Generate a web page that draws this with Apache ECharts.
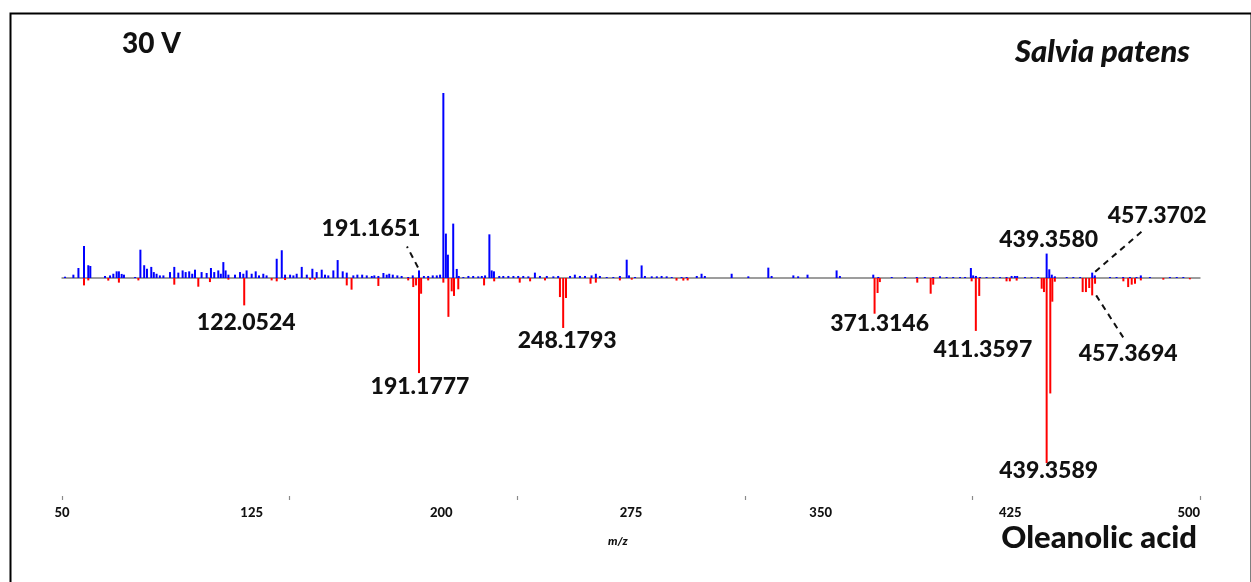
<!DOCTYPE html>
<html>
<head>
<meta charset="utf-8">
<script src="https://cdn.jsdelivr.net/npm/echarts@6/dist/echarts.min.js"></script>
<style>
  html, body { margin: 0; padding: 0; background: #fff; }
  #chart { width: 1251px; height: 582px; }
</style>
</head>
<body>
<div id="chart"></div>
<script>
// Mirror plot of MS/MS spectra at 30 V: plant extract (up) vs. reference standard (down)
const sampleName = 'Salvia patens';
const standardName = 'Oleanolic acid';
const energyLabel = '30 V';
const axisTitle = 'm/z';

// m/z tick labels and tick marks
const labelTicks = [50, 125, 200, 275, 350, 425, 500];
const markTicks = [50, 140, 230, 320, 410, 500];

// Upper trace: [m/z, relative intensity %]
const samplePeaks = [
  [51.2, 0.7], [54.5, 1.8], [56.5, 5.4], [58.7, 17.3], [60.4, 6.9], [61.2, 6.5],
  [67.0, 1.1], [69.0, 1.4], [70.3, 2.3], [71.6, 3.6], [72.5, 3.6], [73.6, 2.2], [74.5, 1.8],
  [78.9, 0.5], [81.0, 15.3], [82.5, 6.9], [83.6, 5.0], [85.3, 6.0], [86.3, 3.2], [87.4, 2.3],
  [88.7, 1.4], [90.1, 1.4], [92.7, 3.2], [94.4, 6.0], [96.0, 2.9], [97.7, 4.1], [98.9, 3.2],
  [100.3, 3.6], [101.5, 2.3], [102.6, 4.5], [105.2, 3.2], [107.2, 2.7], [108.9, 5.4],
  [110.2, 3.2], [111.8, 4.1], [112.8, 2.3], [113.8, 8.6], [114.7, 4.1], [115.8, 1.8],
  [118.4, 1.8], [120.4, 3.2], [121.7, 2.3], [123.0, 4.1], [125.0, 2.3], [126.6, 3.6],
  [127.9, 1.4], [129.6, 2.3], [130.9, 1.4], [134.9, 10.4], [136.9, 15.0], [138.2, 1.8],
  [140.2, 1.8], [141.5, 1.4], [142.8, 2.3], [144.8, 6.0], [146.8, 1.8], [149.0, 5.0],
  [150.7, 3.2], [152.7, 4.5], [154.0, 1.8], [155.3, 1.4], [157.3, 4.1], [159.0, 9.7],
  [161.0, 3.6], [162.6, 2.9], [165.2, 1.4], [166.8, 1.8], [168.7, 1.8], [170.5, 1.4],
  [172.5, 1.1], [173.5, 1.4], [175.1, 1.1], [177.1, 2.7], [178.4, 1.8], [179.4, 2.3],
  [180.8, 1.8], [182.6, 1.4], [184.3, 1.1], [186.9, 0.5], [188.7, 1.4], [191.1651, 4.1],
  [193.1, 1.1], [194.8, 1.1], [196.6, 1.4], [198.2, 1.4], [199.5, 1.8], [200.8, 100],
  [201.8, 24.0], [202.6, 12.6], [204.7, 29.4], [206.1, 4.9], [206.9, 1.1], [208.7, 0.5],
  [210.7, 1.1], [212.6, 1.1], [214.6, 0.9], [216.0, 1.1], [217.3, 1.4], [219.0, 23.6],
  [219.9, 4.1], [220.8, 3.6], [222.9, 1.1], [224.5, 1.1], [226.5, 1.1], [228.5, 1.1],
  [230.4, 1.1], [232.4, 1.1], [234.4, 0.9], [237.0, 2.9], [239.0, 1.1], [241.7, 1.1],
  [244.3, 0.9], [246.2, 1.1], [250.9, 1.1], [252.8, 1.8], [254.8, 1.1], [256.8, 1.1],
  [259.4, 1.4], [261.1, 2.3], [262.7, 1.1], [265.4, 0.5], [268.0, 0.5], [270.6, 1.1],
  [273.3, 9.9], [274.2, 1.4], [276.6, 0.5], [279.2, 6.8], [280.5, 1.1], [283.2, 0.9],
  [285.2, 0.9], [287.1, 1.1], [289.1, 0.9], [291.1, 0.5], [295.0, 0.5], [297.0, 0.5],
  [301.0, 1.1], [302.9, 2.3], [304.2, 1.1], [314.8, 2.3], [321.4, 0.9], [329.3, 5.6],
  [330.6, 1.1], [339.2, 1.4], [341.1, 0.9], [344.8, 1.8], [356.3, 4.1], [357.6, 1.1],
  [370.8, 1.8], [372.8, 0.5], [378.1, 0.5], [383.4, 0.5], [388.0, 0.5], [391.2, 0.4],
  [394.5, 0.5], [397.2, 0.9], [399.8, 0.5], [402.4, 0.5], [405.1, 0.5], [407.1, 0.5],
  [409.4, 5.4], [410.3, 1.4], [411.4, 1.1], [413.0, 0.5], [415.6, 0.5], [418.3, 0.5],
  [420.9, 0.5], [423.5, 0.5], [425.5, 1.1], [426.8, 1.1], [427.7, 1.1], [430.8, 0.5],
  [433.4, 0.5], [436.0, 0.5], [439.3580, 13.2], [440.4, 4.7], [441.4, 1.8], [442.6, 0.9],
  [447.3, 0.5], [449.9, 0.4], [452.6, 0.5], [457.3702, 2.9], [458.4, 1.4], [464.4, 0.5],
  [467.0, 0.5], [469.6, 0.5], [472.3, 0.5], [474.9, 0.5], [476.6, 1.4], [480.2, 0.4],
  [488.1, 0.4], [490.8, 0.4], [493.4, 0.4]
];

// Lower trace: [m/z, relative intensity %], drawn downward
const standardPeaks = [
  [58.7, 4.0], [60.4, 1.3], [68.3, 1.4], [72.5, 2.5], [80.2, 1.3], [94.4, 3.6],
  [103.9, 4.7], [108.5, 2.2], [115.8, 0.9], [122.0524, 14.8], [132.9, 1.3], [134.9, 1.8],
  [138.2, 1.1], [148.1, 0.9], [150.0, 0.9], [162.6, 4.0], [164.5, 6.3], [175.1, 4.3],
  [186.9, 1.3], [188.9, 4.9], [190.0, 4.0], [191.1777, 51.4], [192.0, 8.5], [194.8, 1.3],
  [200.8, 2.5], [202.8, 21.0], [204.1, 7.2], [205.0, 9.7], [206.7, 6.1], [216.9, 4.0],
  [220.9, 1.8], [231.0, 2.5], [235.1, 1.8], [241.0, 1.3], [246.9, 10.3], [248.1793, 27.0],
  [249.3, 10.8], [259.0, 3.1], [261.1, 2.5], [270.6, 1.3], [275.3, 0.9], [293.0, 1.4],
  [295.7, 1.4], [297.4, 1.3], [371.3146, 19.3], [372.5, 8.1], [373.4, 2.2], [388.2, 2.5],
  [393.5, 8.5], [394.5, 3.6], [409.7, 1.8], [411.3597, 28.6], [412.7, 9.7], [423.5, 1.8],
  [424.8, 1.8], [427.5, 1.4], [437.4, 5.8], [438.3, 7.6], [439.3589, 100], [440.8, 62.4],
  [441.6, 12.8], [442.6, 2.0], [453.6, 7.6], [454.9, 7.6], [456.2, 5.4], [457.3694, 9.4],
  [458.5, 3.1], [469.7, 1.8], [471.6, 4.9], [473.0, 3.6], [474.3, 3.1], [476.6, 1.3],
  [485.5, 0.9], [496.0, 0.7]
];

// Peaks that carry an m/z annotation
const sampleLabelled = [191.1651, 439.3580, 457.3702];
const standardLabelled = [122.0524, 191.1777, 248.1793, 371.3146, 411.3597, 439.3589, 457.3694];

// Annotation placement relative to the peak tip (px): text centre and optional dashed leader
const annotationLayout = {
  '191.1651': { dx: -48, dy: -42, leader: [-1, -3, -12, -24] },
  '439.3580': { dx: 2, dy: -14 },
  '457.3702': { dx: 65, dy: -57, leader: [3, -1, 53, -44] },
  '122.0524': { dx: 2, dy: 17 },
  '191.1777': { dx: 1, dy: 13 },
  '248.1793': { dx: 4, dy: 13 },
  '371.3146': { dx: 5, dy: 10 },
  '411.3597': { dx: 7, dy: 19 },
  '439.3589': { dx: 2, dy: 8 },
  '457.3694': { dx: 36, dy: 58, leader: [4, 0, 31, 42] }
};

const BLUE = '#0000ff';
const RED = '#ff0000';
const FONT = 'Lato, "Open Sans", "DejaVu Sans", sans-serif';

const upper = samplePeaks.map(p => [p[0], p[1]]);
const lower = standardPeaks.map(p => [p[0], -p[1]]);

function lookup(list, mz) {
  return list.find(p => p[0] === mz);
}
const annotations = sampleLabelled.map(mz => lookup(upper, mz))
  .concat(standardLabelled.map(mz => lookup(lower, mz)));

function stickRenderer(color) {
  return function (params, api) {
    const x = api.value(0);
    const v = api.value(1);
    const base = api.coord([x, 0]);
    const tip = api.coord([x, v]);
    const h = Math.max(1, Math.abs(tip[1] - base[1]));
    return {
      type: 'rect',
      shape: { x: base[0] - 1, y: v >= 0 ? base[1] - h : base[1], width: 2, height: h },
      style: { fill: color }
    };
  };
}

function annotationRenderer(params, api) {
  const x = api.value(0);
  const v = api.value(1);
  const tip = api.coord([x, v]);
  const key = x.toFixed(4);
  const lay = annotationLayout[key];
  const children = [{
    type: 'text',
    x: tip[0] + lay.dx,
    y: tip[1] + lay.dy,
    style: {
      text: key,
      fill: '#111',
      font: '900 23px ' + FONT,
      align: 'center',
      verticalAlign: 'middle'
    }
  }];
  if (lay.leader) {
    const l = lay.leader;
    children.push({
      type: 'line',
      shape: { x1: tip[0] + l[0], y1: tip[1] + l[1], x2: tip[0] + l[2], y2: tip[1] + l[3] },
      style: { stroke: '#111', lineWidth: 2, lineDash: [6, 5] }
    });
  }
  return { type: 'group', children: children };
}

const chart = echarts.init(document.getElementById('chart'), null, { renderer: 'canvas' });

chart.setOption({
  animation: false,
  backgroundColor: '#ffffff',
  grid: { left: 62, right: 51, top: 93, bottom: 82, containLabel: false },
  xAxis: [
    {
      type: 'value', position: 'bottom', min: 50, max: 500, interval: 75,
      axisLine: { show: true, lineStyle: { color: '#8a8a8a', width: 1.5 } },
      axisTick: { show: false },
      splitLine: { show: false },
      axisLabel: {
        show: true, color: '#111', fontFamily: FONT, fontWeight: 900, fontSize: 13, margin: 6,
        customValues: labelTicks, alignMaxLabel: 'right'
      }
    },
    {
      type: 'value', position: 'bottom', min: 50, max: 500, interval: 90,
      axisLine: { show: false },
      axisTick: { show: true, inside: true, length: 4, lineStyle: { color: '#8a8a8a', width: 1.2 }, customValues: markTicks },
      splitLine: { show: false },
      axisLabel: { show: false }
    }
  ],
  yAxis: {
    type: 'value', min: -120, max: 100, show: false
  },
  graphic: [
    {
      type: 'rect', left: 8, top: 11, z: 100,
      shape: { width: 1241, height: 590 },
      style: { fill: 'none', stroke: '#000', lineWidth: 2 }
    },
    {
      type: 'text', left: 122, top: 30, z: 100,
      style: { text: energyLabel, fill: '#111', font: '900 28px ' + FONT }
    },
    {
      type: 'text', right: 61, top: 36, z: 100,
      style: { text: sampleName, fill: '#111', font: 'italic 900 31px ' + FONT }
    },
    {
      type: 'text', right: 54, top: 522, z: 100,
      style: { text: standardName, fill: '#111', font: '900 31px ' + FONT }
    },
    {
      type: 'text', left: 608, top: 535, z: 100,
      style: { text: axisTitle, fill: '#111', font: 'italic 900 12px ' + FONT }
    }
  ],
  series: [
    {
      name: 'baseline', type: 'line', xAxisIndex: 0, data: [[50, 0], [500, 0]],
      symbol: 'none', silent: true, z: 1,
      lineStyle: { color: '#9a9a9a', width: 1.5 }
    },
    {
      name: sampleName, type: 'custom', xAxisIndex: 0, data: upper,
      renderItem: stickRenderer(BLUE), z: 3, silent: true
    },
    {
      name: standardName, type: 'custom', xAxisIndex: 0, data: lower,
      renderItem: stickRenderer(RED), z: 2, silent: true
    },
    {
      name: 'annotations', type: 'custom', xAxisIndex: 0, data: annotations,
      renderItem: annotationRenderer, z: 5, silent: true
    }
  ]
});
</script>
</body>
</html>
